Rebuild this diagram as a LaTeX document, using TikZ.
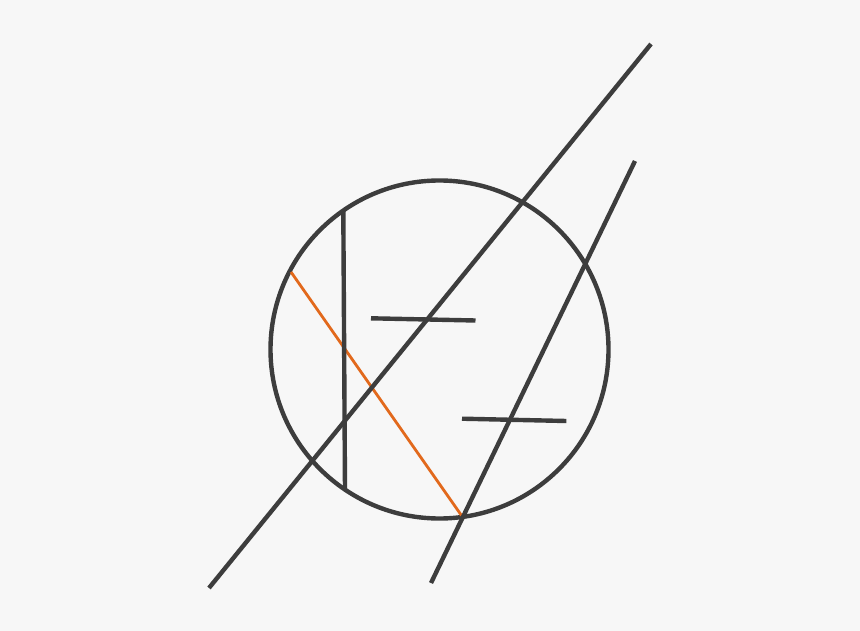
\documentclass[tikz,border=0pt]{standalone}
\begin{document}
\begin{tikzpicture}[x=1pt,y=-1pt,
  dark/.style={draw=darkgray, line width=4.4pt},
  thin/.style={draw=orangeline, line width=2.8pt}]
\definecolor{bg}{HTML}{F7F7F7}
\definecolor{darkgray}{HTML}{3D3D3D}
\definecolor{orangeline}{HTML}{E2691C}
\fill[bg] (0,0) rectangle (860,631);
\useasboundingbox (0,0) rectangle (860,631);
% named points
\coordinate (c) at (439.5,349.5);
\coordinate (l1a) at (209,588);
\coordinate (l1b) at (651,44);
\coordinate (l2a) at (431,583);
\coordinate (l2b) at (635,161);
\coordinate (va) at (343.3,210.5);
\coordinate (vb) at (345,490);
\coordinate (h1a) at (371,318.3);
\coordinate (h1b) at (475.5,320.5);
\coordinate (h2a) at (462,418.7);
\coordinate (h2b) at (566.3,421);
\coordinate (oa) at (291,272);
\coordinate (ob) at (461.5,515.5);
% shapes
\draw[dark] (c) circle[radius=169];
\draw[thin] (oa) -- (ob);
\draw[dark] (l1a) -- (l1b);
\draw[dark] (l2a) -- (l2b);
\draw[dark] (va) -- (vb);
\draw[dark] (h1a) -- (h1b);
\draw[dark] (h2a) -- (h2b);
\end{tikzpicture}
\end{document}
